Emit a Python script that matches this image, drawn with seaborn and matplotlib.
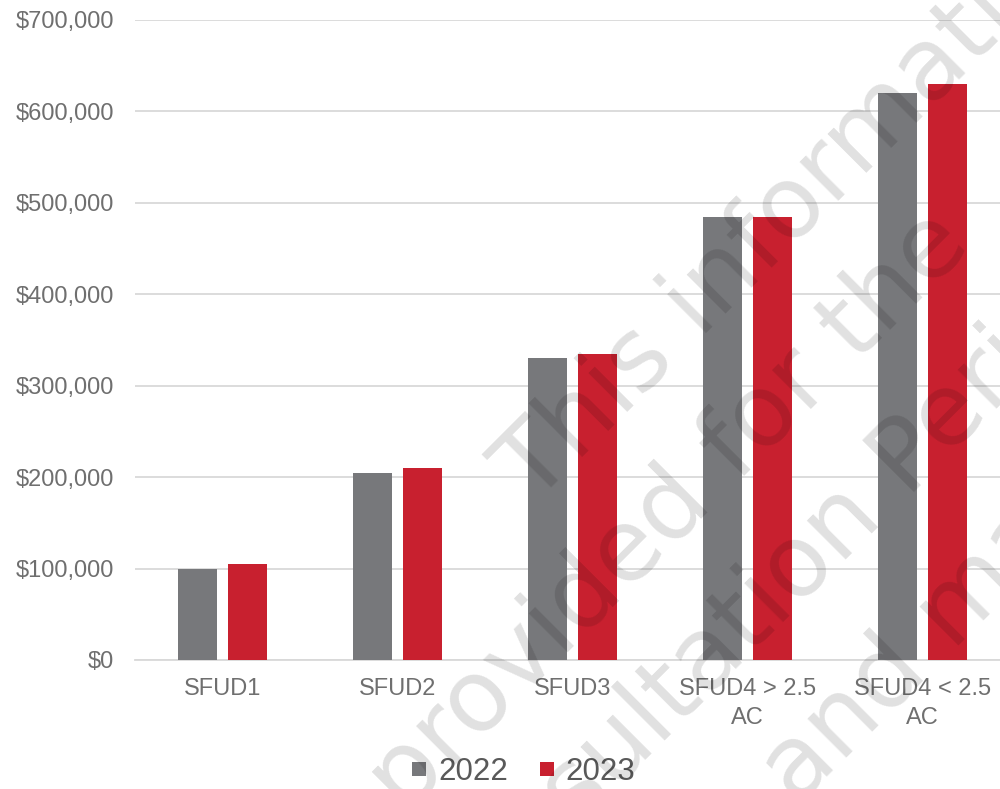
import matplotlib
matplotlib.use("Agg")
import matplotlib.pyplot as plt
from matplotlib.lines import Line2D
from matplotlib.ticker import FuncFormatter
import seaborn as sns
import pandas as pd

categories = ["SFUD1", "SFUD2", "SFUD3", "SFUD4 > 2.5\nAC", "SFUD4 < 2.5\nAC"]
years = ["2022", "2023"]
values_2022 = [100000, 205000, 330000, 485000, 620000]
values_2023 = [105000, 210000, 335000, 485000, 630000]
y_ticks = [0, 100000, 200000, 300000, 400000, 500000, 600000, 700000]
watermark_lines = ["This information is", "provided for the", "consultation Period", "and may"]

GRAY = "#77787b"
RED = "#c8202f"

df = pd.DataFrame({
    "category": categories * 2,
    "year": [years[0]] * len(categories) + [years[1]] * len(categories),
    "value": values_2022 + values_2023,
})

sns.set_theme(style="white")
plt.rcParams["font.family"] = ["Liberation Sans", "DejaVu Sans"]

fig = plt.figure(figsize=(10, 7.89), dpi=100)
ax = fig.add_axes([0.135, 0.1635, 0.875, 0.8112])

sns.barplot(data=df, x="category", y="value", hue="year", order=categories,
            hue_order=years, palette=[GRAY, RED], saturation=1, width=0.571,
            gap=0.22, linewidth=0, legend=False, ax=ax, zorder=3)

ax.set_ylim(0, 700000)
ax.set_xlim(-0.5, len(categories) - 0.5)
ax.set_yticks(y_ticks)
ax.yaxis.set_major_formatter(FuncFormatter(lambda v, p: f"${v:,.0f}"))
ax.grid(axis="y", color="#d9d9d9", linewidth=1.3, zorder=0)
ax.set_axisbelow(True)
for s in ["top", "right", "left"]:
    ax.spines[s].set_visible(False)
ax.spines["bottom"].set_color("#d9d9d9")
ax.spines["bottom"].set_linewidth(1.3)
ax.set_xlabel("")
ax.set_ylabel("")
ax.tick_params(axis="y", length=0, pad=15, labelsize=17, labelcolor="#6f6f6f")
ax.tick_params(axis="x", length=0, pad=13, labelsize=17, labelcolor="#6f6f6f")
for lbl in ax.get_xticklabels():
    lbl.set_linespacing(1.4)

handles = [Line2D([0], [0], marker="s", linestyle="none", markersize=10.5,
                  markerfacecolor=c, markeredgewidth=0) for c in (GRAY, RED)]
leg = fig.legend(handles, years, loc="center", bbox_to_anchor=(0.522, 0.021),
                 ncol=2, frameon=False, fontsize=22.5, handlelength=0.7,
                 handletextpad=0.25, columnspacing=0.9, borderaxespad=0)
for t in leg.get_texts():
    t.set_color("#595959")

# watermark (pixel positions converted to figure fraction)
W, H = 1000, 789
wm_pos = [(534, 506), (404, 816), (450, 955), (797, 807)]
for txt, (px, py) in zip(watermark_lines, wm_pos):
    fig.text(px / W, 1 - py / H, txt, rotation=45, rotation_mode="anchor",
             ha="left", va="baseline", fontsize=72, color="black", alpha=0.12,
             family="DejaVu Sans", zorder=10)

fig.savefig("out.png", dpi=100)
